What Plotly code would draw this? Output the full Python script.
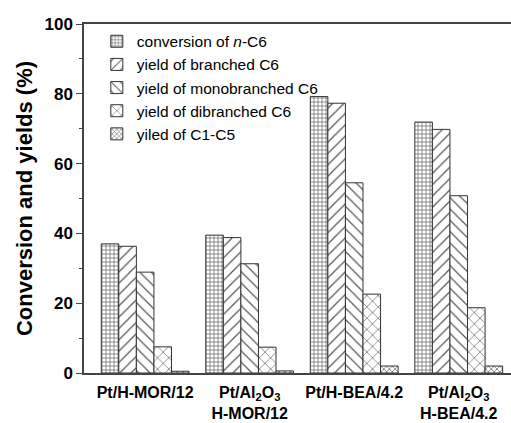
import plotly.graph_objects as go

categories = ["Pt/H-MOR/12", "Pt/Al<sub>2</sub>O<sub>3</sub><br>H-MOR/12",
              "Pt/H-BEA/4.2", "Pt/Al<sub>2</sub>O<sub>3</sub><br>H-BEA/4.2"]
series_names = ["conversion of <i>n</i>-C6", "yield of branched C6",
                "yield of monobranched C6", "yield of dibranched C6", "yiled of C1-C5"]
conversion = [37.0, 39.5, 79.2, 71.9]
branched = [36.3, 38.8, 77.3, 69.8]
monobranched = [28.9, 31.3, 54.5, 50.8]
dibranched = [7.5, 7.4, 22.6, 18.7]
c1c5 = [0.5, 0.6, 2.0, 2.0]
y_ticks = [0, 20, 40, 60, 80, 100]

values = [conversion, branched, monobranched, dibranched, c1c5]
patterns = [dict(shape="+", size=4, solidity=0.3),
            dict(shape="/", size=8, solidity=0.15),
            dict(shape="\\", size=8, solidity=0.15),
            dict(shape="x", size=8, solidity=0.15),
            dict(shape="x", size=4, solidity=0.3)]

FONT = "Liberation Sans, Arial, sans-serif"
xpos = list(range(len(categories)))

fig = go.Figure()
for name, vals, pat in zip(series_names, values, patterns):
    fig.add_trace(go.Bar(
        x=xpos, y=vals, name=name,
        marker=dict(color="white", line=dict(color="#333", width=1),
                    pattern=dict(fgcolor="#555", bgcolor="white", fillmode="replace", **pat)),
    ))

fig.update_layout(
    width=511, height=423,
    margin=dict(l=84, r=0, t=24, b=50),
    barmode="group", bargap=0.16, bargroupgap=0,
    plot_bgcolor="white", paper_bgcolor="white",
    font=dict(family=FONT, color="black"),
    showlegend=True,
    legend=dict(x=0.03, y=0.998, xanchor="left", yanchor="top",
                bgcolor="rgba(0,0,0,0)", font=dict(size=15.5, family=FONT),
                tracegroupgap=0),
    xaxis=dict(range=[-0.585, 3.5], tickmode="array", tickvals=xpos, ticktext=categories,
               showline=True, linecolor="#444", linewidth=1.5, mirror=True,
               ticks="", ticklabelstandoff=4,
               tickfont=dict(size=16, family=FONT, weight="bold"),
               showgrid=False, zeroline=False),
    yaxis=dict(range=[0, 100], tickvals=y_ticks, showline=True, linecolor="#444",
               linewidth=1.5, mirror=False, ticks="outside", ticklen=6, tickwidth=1.2,
               tickcolor="#444",
               minor=dict(dtick=10, ticks="outside", ticklen=3, tickcolor="#444"),
               tickfont=dict(size=17, family=FONT, weight="bold"),
               title=dict(text="Conversion and yields (%)",
                          font=dict(size=22, family=FONT, weight="bold"), standoff=6),
               showgrid=False, zeroline=False),
)

fig.write_html("out.html")
